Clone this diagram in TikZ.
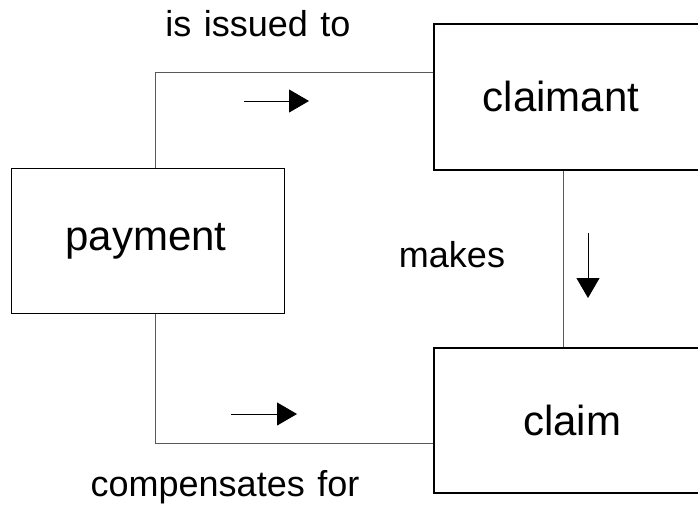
\documentclass[tikz,border=0pt]{standalone}
\usepackage{fontspec}
\setmainfont{Liberation Sans}[WordSpace=1.25]
\usetikzlibrary{arrows.meta}
\begin{document}
\begin{tikzpicture}[x=1pt,y=-1pt,
  box/.style={draw=black, line width=1.7pt, rectangle, inner sep=0pt, anchor=north west},
  boxlabel/.style={font=\fontsize{42}{50}\selectfont, anchor=base, inner sep=0pt},
  edgelabel/.style={font=\fontsize{36}{43}\selectfont, anchor=base, inner sep=0pt},
  conn/.style={draw=black!65, line width=1pt},
  dirarrow/.style={draw=black, line width=1pt, -{Triangle[length=20pt,width=23pt]}}]
\useasboundingbox (0,0) rectangle (698,507);
\clip (0,0) rectangle (698,507);
% boxes
\node[box, line width=1.1pt, minimum width=273pt, minimum height=145pt] (payment) at (11,168) {};
\node[box, minimum width=300pt, minimum height=146pt] (claimant) at (433,23) {};
\node[box, minimum width=300pt, minimum height=145pt] (claim) at (433,347) {};
% box labels
\node[boxlabel] (tpayment) at (146,250) {payment};
\node[boxlabel] (tclaimant) at (561,111) {claimant};
\node[boxlabel] (tclaim) at (572,435) {claim};
% connectors
\draw[conn] ([xshift=144pt]payment.north west) |- ([yshift=-49pt]claimant.north west);
\draw[conn] ([xshift=144pt]payment.south west) |- ([yshift=-96pt]claim.north west);
\draw[conn] ([xshift=130pt]claimant.south west) -- ([xshift=130pt]claim.north west);
% edge labels
\node[edgelabel] (lissued) at (258,36) {is issued to};
\node[edgelabel] (lcomp) at (225,496) {compensates for};
\node[edgelabel] (lmakes) at (452,267) {makes};
% direction arrows
\coordinate (a1s) at (244,101);
\coordinate (a1e) at (309,101);
\coordinate (a2s) at (231,414);
\coordinate (a2e) at (297,414);
\coordinate (a3s) at (588,233);
\coordinate (a3e) at (588,298);
\draw[dirarrow] (a1s) -- (a1e);
\draw[dirarrow] (a2s) -- (a2e);
\draw[dirarrow] (a3s) -- (a3e);
\end{tikzpicture}
\end{document}
